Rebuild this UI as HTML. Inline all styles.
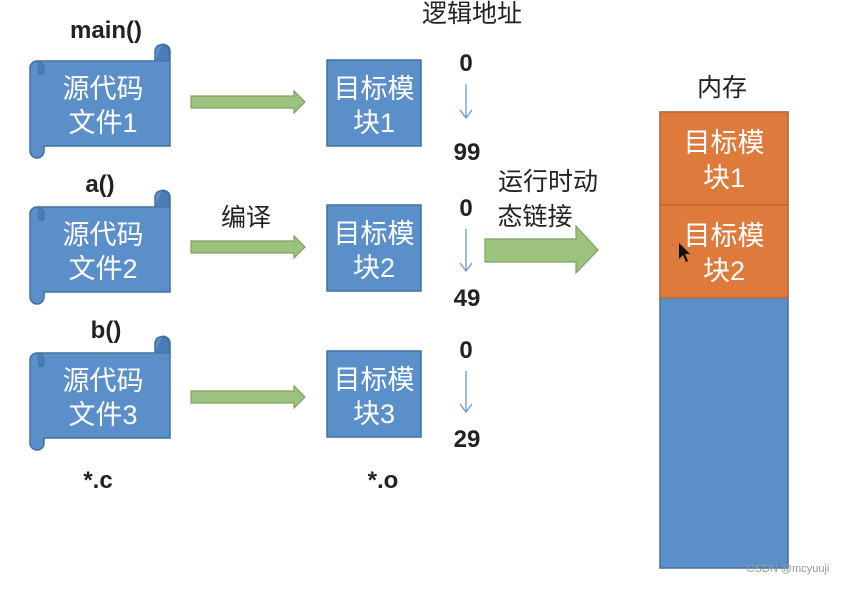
<!DOCTYPE html>
<html><head><meta charset="utf-8"><style>
html,body{margin:0;padding:0;background:#fff;}
svg text{font-family:"Liberation Sans","Noto Sans CJK SC",sans-serif;}
</style></head><body>
<svg width="856" height="586" viewBox="0 0 856 586" xmlns="http://www.w3.org/2000/svg">
<defs>
<g id="scroll">
  <path d="M160,0 a7,7 0 0 1 10,6 V101 H44 V106 a7,7 0 0 1 -14,0 V22 a7,7 0 0 1 7,-6 H155 V6 a6,6 0 0 1 5,-6Z" fill="#5b8fc9" stroke="#41719c" stroke-width="1.5"/>
  <path d="M37,16 a7,7 0 0 1 7,7 V28 a4,4 0 0 1 -6,0" fill="#4a7db5" stroke="#41719c" stroke-width="1"/>
  <path d="M162,0 a7,7 0 0 1 7,7 V16 H155" fill="#4a7db5" stroke="#41719c" stroke-width="1"/>
</g>
<g id="garrow"><path d="M191,96 H294 V91 L305,102 L294,113 V108 H191Z" fill="#9bc27f" stroke="#7aa35e" stroke-width="1.2"/></g>
</defs>
<g fill="#222" font-size="24" text-anchor="middle" font-weight="bold">
<text x="106" y="38">main()</text>
<text x="100" y="192">a()</text>
<text x="106" y="338">b()</text>
<text x="98" y="488">*.c</text>
<text x="383" y="488">*.o</text>
</g>
<g fill="#222" font-size="25" text-anchor="middle">
<text x="472" y="22">逻辑地址</text>
<text x="722" y="96">内存</text>
<text x="246" y="226">编译</text>
<text x="548" y="190">运行时动</text>
<text x="535" y="225">态链接</text>
</g>
<use href="#scroll" transform="translate(0,45)"/>
<use href="#scroll" transform="translate(0,191)"/>
<use href="#scroll" transform="translate(0,337)"/>
<g fill="#fff" font-size="27" text-anchor="middle">
<text x="103" y="98">源代码</text><text x="103" y="132">文件1</text>
<text x="103" y="244">源代码</text><text x="103" y="278">文件2</text>
<text x="103" y="390">源代码</text><text x="103" y="424">文件3</text>
</g>
<use href="#garrow"/>
<use href="#garrow" transform="translate(0,145)"/>
<use href="#garrow" transform="translate(0,295)"/>
<g fill="#5b8fc9" stroke="#41719c" stroke-width="1.5">
<rect x="327" y="60" width="94" height="86"/>
<rect x="327" y="205" width="94" height="86"/>
<rect x="327" y="351" width="94" height="86"/>
</g>
<g fill="#fff" font-size="27" text-anchor="middle">
<text x="374" y="98">目标模</text><text x="374" y="132">块1</text>
<text x="374" y="243">目标模</text><text x="374" y="277">块2</text>
<text x="374" y="389">目标模</text><text x="374" y="423">块3</text>
</g>
<g fill="#222" font-size="24" text-anchor="middle" font-weight="bold">
<text x="466" y="71">0</text><text x="467" y="160">99</text>
<text x="466" y="216">0</text><text x="467" y="306">49</text>
<text x="466" y="358">0</text><text x="467" y="447">29</text>
</g>
<g stroke="#6a9ad0" stroke-width="1.3" fill="none">
<path d="M466,84 V118 M460,110 L466,118 L472,110"/>
<path d="M466,229 V271 M460,263 L466,271 L472,263"/>
<path d="M466,371 V412 M460,404 L466,412 L472,404"/>
</g>
<path d="M485,239 H576 V226 L598,250 L576,273 V262 H485Z" fill="#9bc27f" stroke="#7aa35e" stroke-width="1.2"/>
<rect x="660" y="112" width="128" height="456" fill="#5b8fc9" stroke="#41719c" stroke-width="1.5"/>
<rect x="660" y="112" width="128" height="93" fill="#dd7a3c" stroke="#b8642e" stroke-width="1.2"/>
<rect x="660" y="205" width="128" height="93" fill="#dd7a3c" stroke="#b8642e" stroke-width="1.2"/>
<g fill="#fff" font-size="27" text-anchor="middle">
<text x="724" y="152">目标模</text><text x="724" y="187">块1</text>
<text x="724" y="245">目标模</text><text x="724" y="280">块2</text>
</g>
<path d="M679,243 L679,259 L683,255 L686,262 L688,261 L685,254 L690,254Z" fill="#111"/>
<text x="788" y="572" font-size="11" fill="#999" text-anchor="middle">CSDN @mcyuuji</text>
</svg>
</body></html>
